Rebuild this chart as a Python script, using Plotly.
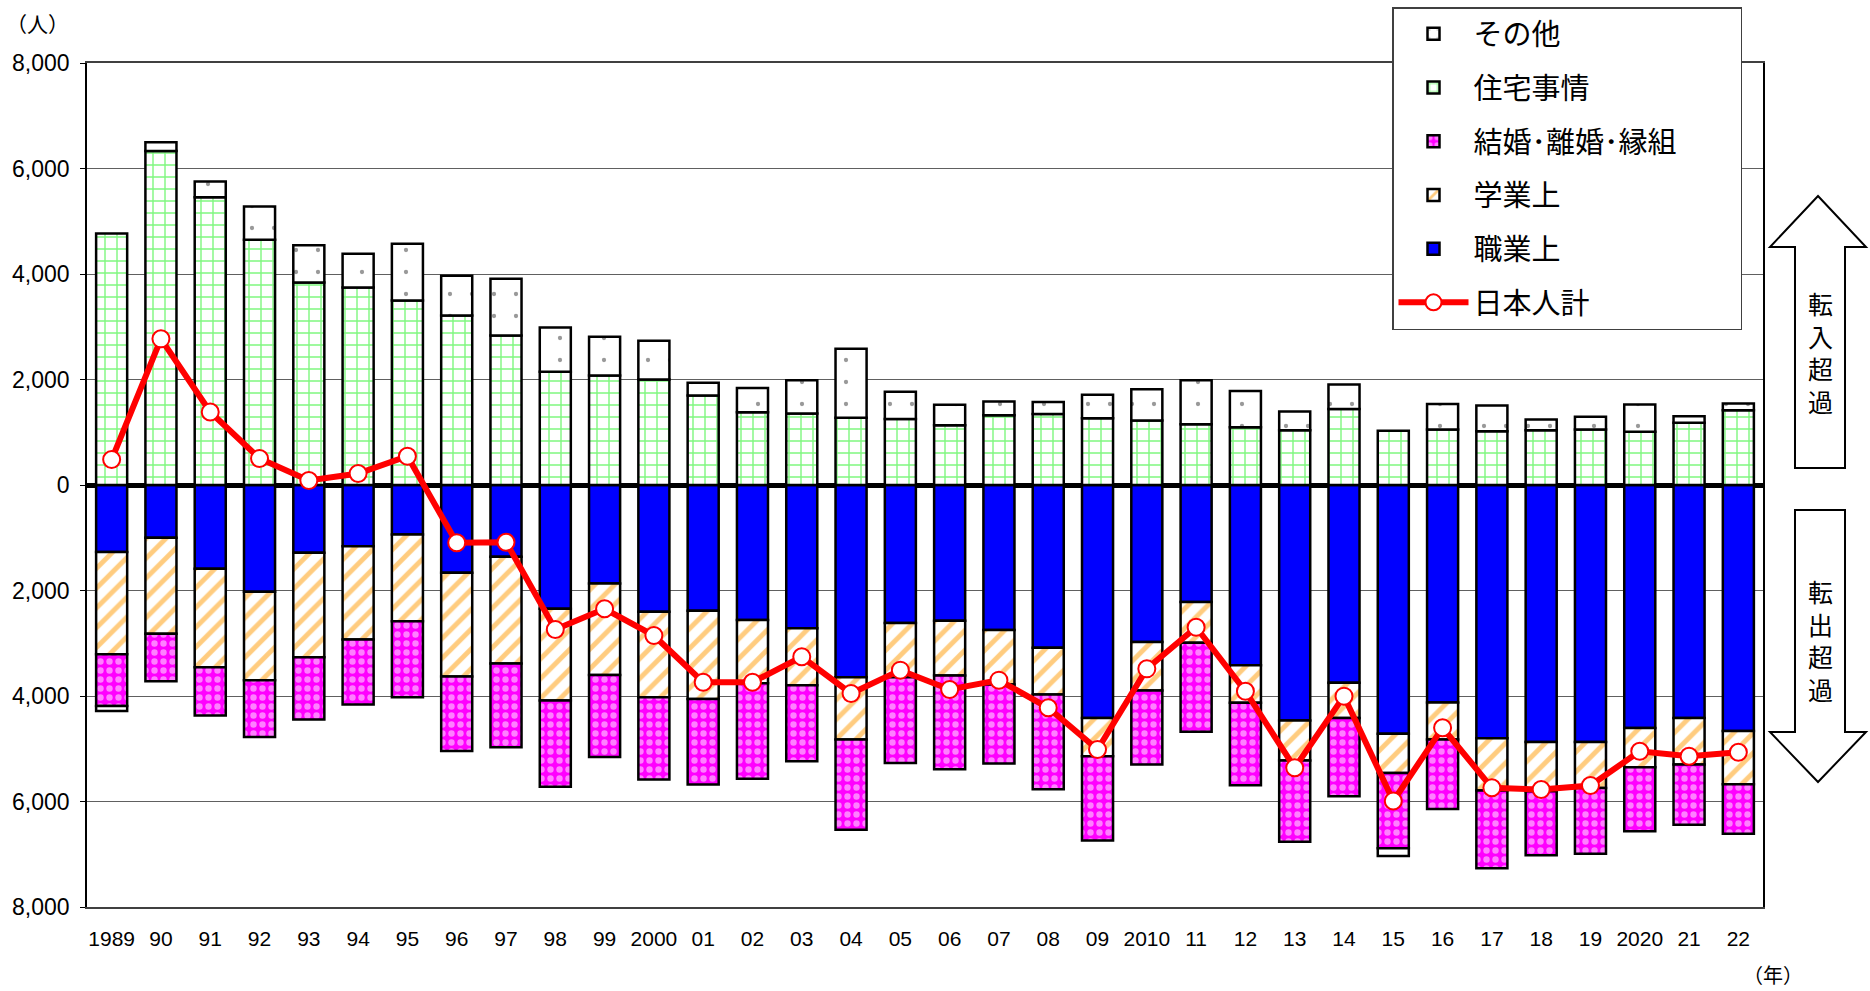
import plotly.graph_objects as go

# ---------------- data ----------------
years = ["1989", "90", "91", "92", "93", "94", "95", "96", "97", "98", "99",
         "2000", "01", "02", "03", "04", "05", "06", "07", "08", "09",
         "2010", "11", "12", "13", "14", "15", "16", "17", "18", "19",
         "2020", "21", "22"]

housing = [4770, 6330, 5455, 4650, 3840, 3745, 3500, 3213, 2835, 2146, 2076,
           2000, 1697, 1380, 1355, 1276, 1253, 1134, 1320, 1345, 1265,
           1225, 1150, 1095, 1040, 1440, 1030, 1050, 1017, 1039, 1052,
           1008, 1179, 1418]

other = [-95, 170, 300, 630, 705, 640, 1075, 755, 1075, 840, 735,
         735, 240, 460, 630, 1306, 515, 385, 265, 230, 445,
         590, 835, 685, 355, 465, -146, 485, 490, 203, 241,
         518, 125, 127]

job = [-1270, -1000, -1590, -2025, -1285, -1160, -940, -1665, -1360, -2345, -1865,
       -2405, -2385, -2560, -2715, -3645, -2615, -2575, -2750, -3085, -4415,
       -2975, -2220, -3415, -4465, -3750, -4715, -4125, -4800, -4870, -4870,
       -4605, -4415, -4665]

study = [-1940, -1820, -1865, -1675, -1980, -1770, -1645, -1965, -2025, -1740, -1735,
         -1620, -1670, -1200, -1080, -1180, -1030, -1035, -1030, -885, -725,
         -920, -770, -715, -760, -665, -745, -700, -990, -935, -875,
         -745, -885, -1010]

marriage = [-980, -900, -915, -1075, -1180, -1230, -1440, -1415, -1585, -1635, -1555,
            -1560, -1625, -1810, -1440, -1710, -1625, -1780, -1500, -1800, -1600,
            -1405, -1690, -1560, -1540, -1485, -1425, -1315, -1475, -1215, -1245,
            -1215, -1140, -935]

total = [483, 2771, 1384, 502, 85, 218, 546, -1096, -1084, -2739, -2347,
         -2853, -3738, -3738, -3257, -3953, -3510, -3877, -3700, -4224, -5014,
         -3485, -2696, -3909, -5361, -4003, -5990, -4603, -5740, -5773, -5697,
         -5047, -5141, -5065]

ytick_vals = [-8000, -6000, -4000, -2000, 0, 2000, 4000, 6000, 8000]
ytick_text = ["8,000", "6,000", "4,000", "2,000", "0", "2,000", "4,000", "6,000", "8,000"]

# ---------------- layout geometry ----------------
W, H = 1870, 991
L, R, T, B = 87, 107, 63, 84
PW, PH = W - L - R, H - T - B


def px(x):
    return (x - L) / PW


def py(y):
    return (H - B - y) / PH


JP = "Noto Sans CJK JP"
NUM = "Liberation Sans, Arial, sans-serif"
outline = dict(color="black", width=2.5)
PAD = "\u00a0" * 9  # widens the legend box like the reference

fig = go.Figure()

fig.add_trace(go.Bar(
    x=years, y=job, name="職業上", legendrank=5, legendgroup="g5",
    marker=dict(color="#0000FF", line=outline)))
fig.add_trace(go.Bar(
    x=years, y=study, name="学業上", legendrank=4, legendgroup="g4",
    marker=dict(color="white", line=outline,
                pattern=dict(shape="/", fgcolor="#FF9900", bgcolor="white",
                             size=14, solidity=0.35))))
fig.add_trace(go.Bar(
    x=years, y=marriage, name="結婚･離婚･縁組" + PAD, legendrank=3, legendgroup="g3",
    marker=dict(color="#FF00FF", line=outline,
                pattern=dict(shape=".", fgcolor="white", bgcolor="#FF00FF",
                             size=9, solidity=0.4))))
fig.add_trace(go.Bar(
    x=years, y=housing, name="住宅事情", legendrank=2, legendgroup="g2",
    marker=dict(color="white", line=outline,
                pattern=dict(shape="+", fgcolor="#00EE00", bgcolor="white",
                             size=12, solidity=0.22))))
fig.add_trace(go.Bar(
    x=years, y=other, name="その他", legendrank=1, legendgroup="g1",
    marker=dict(color="white", line=outline,
                pattern=dict(shape=".", fgcolor="#333333", bgcolor="white",
                             size=22, solidity=0.03))))
fig.add_trace(go.Scatter(
    x=years, y=total, name="日本人計", legendrank=6, legendgroup="g6",
    mode="lines+markers",
    line=dict(color="#FF0000", width=6),
    marker=dict(symbol="circle", size=17, color="white",
                line=dict(color="#FF0000", width=2))))

# ---------------- arrows on the right ----------------
up_arrow = [(1818, 196), (1866, 247), (1845, 247), (1845, 468), (1795, 468),
            (1795, 247), (1770, 247)]
down_arrow = [(1795, 510), (1845, 510), (1845, 732), (1866, 732), (1818, 782),
              (1770, 732), (1795, 732)]


def path_of(pts):
    return "M " + " L ".join(f"{px(a):.5f},{py(b):.5f}" for a, b in pts) + " Z"


shapes = [
    dict(type="path", xref="paper", yref="paper", path=path_of(up_arrow),
         line=dict(color="black", width=2), fillcolor="white"),
    dict(type="path", xref="paper", yref="paper", path=path_of(down_arrow),
         line=dict(color="black", width=2), fillcolor="white"),
]

annotations = [
    dict(text="転<br>入<br>超<br>過", x=px(1820), y=py(352), xref="paper", yref="paper",
         showarrow=False, font=dict(family=JP, size=25, color="black"),
         xanchor="center", yanchor="middle", align="center"),
    dict(text="転<br>出<br>超<br>過", x=px(1820), y=py(640), xref="paper", yref="paper",
         showarrow=False, font=dict(family=JP, size=25, color="black"),
         xanchor="center", yanchor="middle", align="center"),
    dict(text="（人）", x=px(37), y=py(23), xref="paper", yref="paper",
         showarrow=False, font=dict(family=JP, size=21, color="black"),
         xanchor="center", yanchor="middle"),
    dict(text="（年）", x=px(1773), y=py(974), xref="paper", yref="paper",
         showarrow=False, font=dict(family=JP, size=20, color="black"),
         xanchor="center", yanchor="middle"),
]

fig.update_layout(
    width=W, height=H,
    margin=dict(l=L, r=R, t=T, b=B, pad=0, autoexpand=False),
    paper_bgcolor="white", plot_bgcolor="white",
    barmode="relative", bargap=0.37,
    font=dict(family=NUM, size=22, color="black"),
    showlegend=True,
    legend=dict(x=px(1392), y=py(7), xanchor="left", yanchor="top",
                bgcolor="white", bordercolor="#404040", borderwidth=1.5,
                font=dict(family=JP, size=29, color="black"),
                tracegroupgap=13, itemwidth=70,
                traceorder="grouped"),
    xaxis=dict(type="category", range=[-0.5, 33.5], showgrid=False,
               ticks="", showline=True, linecolor="#404040", linewidth=1.5,
               mirror=True, tickfont=dict(family=NUM, size=21),
               ticklabelstandoff=12),
    xaxis2=dict(overlaying="x", anchor="free", position=0.5, side="top",
                range=[-0.5, 33.5], tickmode="array",
                tickvals=[i - 0.5 for i in range(len(years) + 1)],
                ticks="outside", ticklen=6, tickwidth=5, tickcolor="black",
                showticklabels=False, showgrid=False, showline=False,
                zeroline=False),
    yaxis=dict(range=[-8000, 8000], tickmode="array", tickvals=ytick_vals,
               ticktext=ytick_text, showgrid=True, gridcolor="#606060",
               gridwidth=1.2, zeroline=True, zerolinecolor="black",
               zerolinewidth=5, showline=True, linecolor="black",
               linewidth=1.5, mirror=True, ticks="outside", ticklen=5,
               tickcolor="black", tickfont=dict(family=NUM, size=23),
               ticklabelstandoff=6),
    shapes=shapes,
    annotations=annotations,
)

fig.write_html("out.html",
               config={"displayModeBar": False},
               post_script="document.body.style.margin='0';"
                           "document.body.style.overflow='hidden';")
